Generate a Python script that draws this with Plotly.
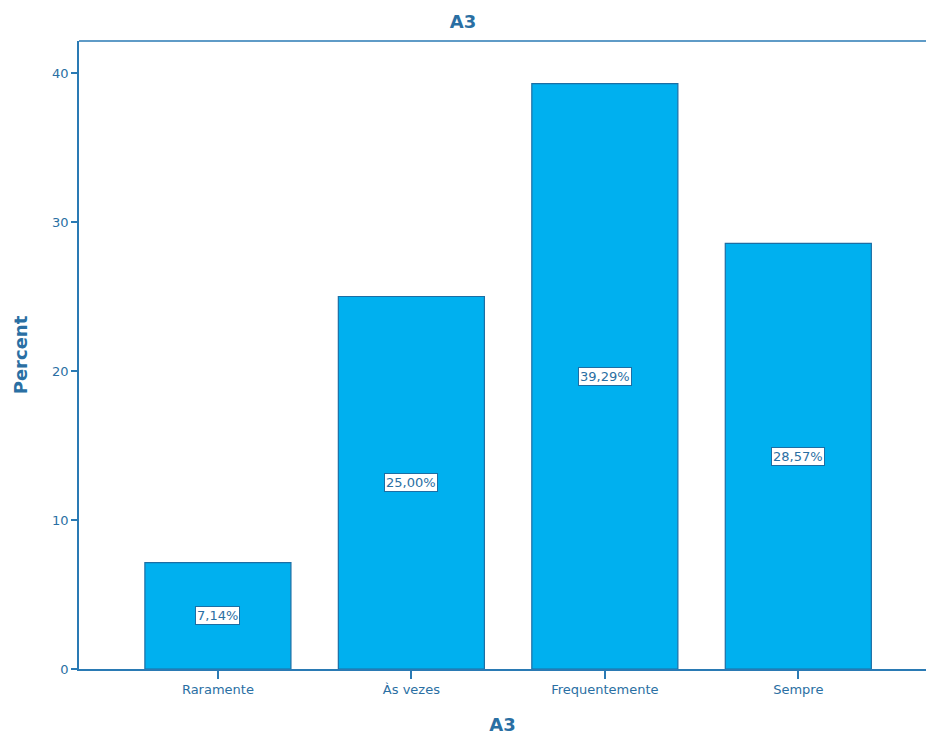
import plotly.graph_objects as go

categories = ["Raramente", "Às vezes", "Frequentemente", "Sempre"]
percent = [7.14, 25.00, 39.29, 28.57]
value_labels = ["7,14%", "25,00%", "39,29%", "28,57%"]
y_ticks = [0, 10, 20, 30, 40]

bar_fill = "#00b0ef"
bar_edge = "#1c6ea4"
ink = "#2a6fa3"
axis_line = "#2a7ab4"
font_family = "DejaVu Sans, Verdana, sans-serif"

fig = go.Figure()
fig.add_trace(go.Bar(
    x=list(range(len(categories))),
    y=percent,
    width=0.755,
    marker=dict(color=bar_fill, line=dict(color=bar_edge, width=1.2)),
    hoverinfo="skip",
))

# value labels centered at half bar height in white boxes
for i, (v, lab) in enumerate(zip(percent, value_labels)):
    fig.add_annotation(
        x=i, y=v / 2, text=lab, showarrow=False,
        font=dict(family=font_family, size=13, color=ink),
        bgcolor="white", bordercolor=bar_edge, borderwidth=1, borderpad=1,
    )

fig.update_layout(
    width=926, height=738,
    margin=dict(l=79, r=0, t=41, b=69),
    paper_bgcolor="white", plot_bgcolor="white",
    showlegend=False,
    title=dict(text="<b>A3</b>", x=0.5, xanchor="center", y=1 - 22 / 738, yanchor="middle",
               font=dict(family=font_family, size=18, color=ink)),
    font=dict(family=font_family, color=ink),
)

fig.update_xaxes(
    range=[-0.718, 3.66],
    tickvals=list(range(len(categories))), ticktext=categories,
    ticks="outside", ticklen=8, tickcolor=axis_line, tickwidth=1.5,
    tickfont=dict(family=font_family, size=13, color=ink),
    showline=True, linecolor=axis_line, linewidth=1.5,
    showgrid=False, zeroline=False,
    title=dict(text="<b>A3</b>", font=dict(family=font_family, size=18, color=ink), standoff=22),
)
fig.update_yaxes(
    range=[0, 42.15],
    tickvals=y_ticks, ticktext=[str(t) for t in y_ticks],
    ticks="outside", ticklen=6, tickcolor=axis_line, tickwidth=1.5,
    tickfont=dict(family=font_family, size=13, color=ink),
    showline=True, linecolor=axis_line, linewidth=1.5, mirror=False,
    showgrid=False, zeroline=False,
    title=dict(text="<b>Percent</b>", font=dict(family=font_family, size=18, color=ink), standoff=20),
)

# top border of the plot frame
fig.add_shape(type="line", xref="paper", yref="paper", x0=0, x1=1, y0=1, y1=1,
              line=dict(color=axis_line, width=1.5))

fig.write_html("out.html")
